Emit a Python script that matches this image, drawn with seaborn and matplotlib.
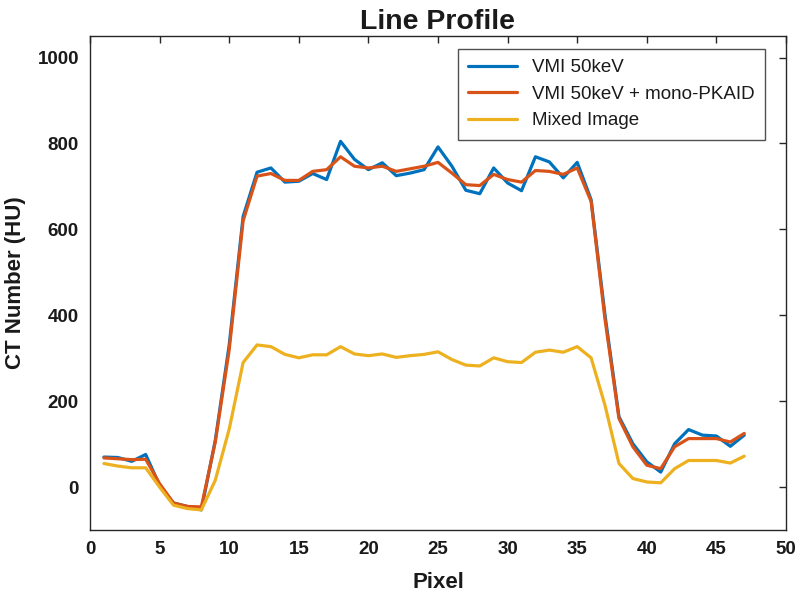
import numpy as np
import pandas as pd
import matplotlib
matplotlib.use("Agg")
import matplotlib.pyplot as plt
import seaborn as sns

# line profile values (pixel 1..47)
pixel = np.arange(1, 48)

vmi_50kev = [70, 69, 60, 76, 4, -37, -45, -53, 109, 331,
             630, 733, 743, 710, 712, 730, 716, 805, 763, 739,
             755, 725, 731, 739, 792, 747, 691, 683, 743, 708,
             690, 769, 757, 720, 756, 669, 400, 164, 101, 59,
             35, 101, 134, 121, 119, 95, 121]

vmi_pkaid = [68, 66, 64, 65, 8, -37, -45, -46, 105, 320,
             620, 724, 730, 714, 714, 735, 739, 769, 747, 743,
             747, 735, 741, 747, 756, 731, 704, 702, 728, 716,
             710, 737, 735, 728, 743, 665, 390, 160, 94, 51,
             43, 94, 113, 113, 113, 105, 125]

mixed = [55, 49, 45, 45, 0, -42, -50, -53, 16, 135,
         290, 331, 327, 309, 301, 308, 308, 327, 310, 306,
         310, 302, 306, 309, 315, 297, 284, 282, 301, 292,
         290, 314, 319, 314, 327, 301, 190, 55, 20, 12,
         10, 43, 62, 62, 62, 56, 72]

labels = ["VMI 50keV", "VMI 50keV + mono-PKAID", "Mixed Image"]
colors = ["#0072BD", "#D95319", "#EDB120"]

df = pd.DataFrame({"Pixel": np.tile(pixel, 3),
                   "HU": vmi_50kev + vmi_pkaid + mixed,
                   "series": np.repeat(labels, len(pixel))})

sns.set_style("white")
plt.rcParams["font.family"] = ["Liberation Sans", "DejaVu Sans"]

fig = plt.figure(figsize=(8, 6.01), dpi=100)
ax = fig.add_axes([0.1125, 0.118, 0.87, 0.822])

sns.lineplot(data=df, x="Pixel", y="HU", hue="series", hue_order=labels,
             palette=colors, linewidth=2.3, ax=ax, legend=True)

ax.set_xlim(0, 50)
ax.set_ylim(-100, 1050)
ax.set_xticks(np.arange(0, 51, 5))
ax.set_yticks(np.arange(0, 1001, 200))
ax.tick_params(direction="in", length=5, width=1, top=True, right=True,
               labelsize=13.5, colors="#262626", labelcolor="#1a1a1a", pad=8)
for lab in ax.get_xticklabels() + ax.get_yticklabels():
    lab.set_fontweight("bold")
for sp in ax.spines.values():
    sp.set_color("#262626")
    sp.set_linewidth(1.0)

ax.set_title("Line Profile", fontsize=20.5, fontweight="bold", pad=5, color="#1a1a1a")
ax.set_xlabel("Pixel", fontsize=16, fontweight="bold", labelpad=10, color="#1a1a1a")
ax.set_ylabel("CT Number (HU)", fontsize=16, fontweight="bold", labelpad=8, color="#1a1a1a")

leg = ax.legend(loc="upper right", bbox_to_anchor=(0.97, 0.974), fontsize=13.5,
                frameon=True, fancybox=False, handlelength=2.6, borderaxespad=0,
                borderpad=0.55, labelspacing=0.5, handletextpad=0.8)
leg.get_frame().set_edgecolor("#262626")
leg.get_frame().set_linewidth(1.0)
for t in leg.get_texts():
    t.set_color("#1a1a1a")

fig.savefig("out.png", dpi=100)
